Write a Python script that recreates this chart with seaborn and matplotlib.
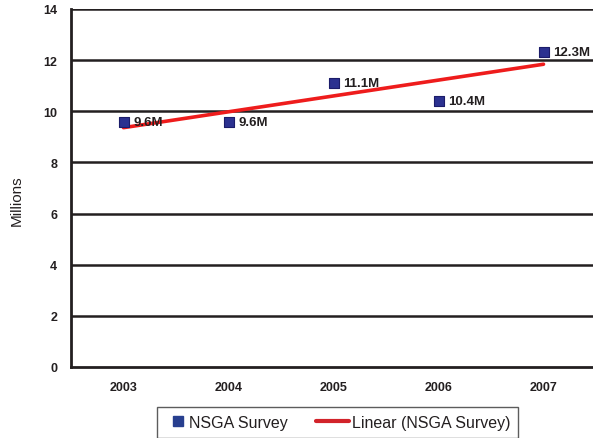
import matplotlib
matplotlib.use("Agg")
import matplotlib.pyplot as plt
from matplotlib.lines import Line2D
from matplotlib.legend_handler import HandlerLine2D
import numpy as np
import seaborn as sns
import pandas as pd

# Survey participation, millions
years = ["2003", "2004", "2005", "2006", "2007"]
participants = [9.6, 9.6, 11.1, 10.4, 12.3]
point_labels = ["9.6M", "9.6M", "11.1M", "10.4M", "12.3M"]
y_ticks = [0, 2, 4, 6, 8, 10, 12, 14]

df = pd.DataFrame({"idx": range(len(years)), "year": years, "value": participants})

sns.set_theme(style="white")
plt.rcParams["font.family"] = ["Liberation Sans", "DejaVu Sans"]

ink = "#231f20"
marker_fill = "#2b3190"
marker_edge = "#1b1c6a"
trend_red = "#ee1c1c"


class ShiftedMarker(HandlerLine2D):
    """Legend marker nudged sideways within its handle box."""

    def __init__(self, shift, **kw):
        super().__init__(**kw)
        self.shift = shift

    def create_artists(self, legend, orig_handle, xdescent, ydescent, width,
                       height, fontsize, trans):
        arts = super().create_artists(legend, orig_handle, xdescent, ydescent,
                                      width, height, fontsize, trans)
        for a in arts:
            xd = np.asarray(a.get_xdata(), float) + self.shift
            a.set_data(xd, np.asarray(a.get_ydata(), float))
        return arts


class LongLine(HandlerLine2D):
    """Legend line that reaches further left than its handle box."""

    def __init__(self, extend, **kw):
        super().__init__(**kw)
        self.extend = extend

    def create_artists(self, legend, orig_handle, xdescent, ydescent, width,
                       height, fontsize, trans):
        arts = super().create_artists(legend, orig_handle, xdescent, ydescent,
                                      width, height, fontsize, trans)
        line = arts[0]
        xd = np.asarray(line.get_xdata(), float)
        yc = float(np.asarray(line.get_ydata(), float).mean())
        line.set_data([xd.min() - self.extend, xd.max()], [yc, yc])
        return arts


fig = plt.figure(figsize=(5.93, 4.39), dpi=100)
ax = fig.add_axes([71 / 593, 71 / 439, 525 / 593, 358 / 439])

# horizontal gridlines
for v in y_ticks[1:]:
    ax.axhline(v, color=ink, lw=1.8, zorder=1)

# least-squares trend across the survey years
sns.regplot(data=df, x="idx", y="value", scatter=False, ci=None, ax=ax,
            line_kws={"color": trend_red, "lw": 2.6, "zorder": 3})

sns.scatterplot(data=df, x="idx", y="value", ax=ax, marker="s", s=50,
                color=marker_fill, edgecolor=marker_edge, linewidth=0.8, zorder=4)

for i, (v, lab) in enumerate(zip(participants, point_labels)):
    ax.annotate(lab, (i, v), xytext=(7, 0), textcoords="offset points",
                ha="left", va="center", fontsize=9.5, fontweight="bold",
                color=ink, zorder=5)

ax.set_xlim(-0.5, len(years) - 0.5)
ax.set_ylim(0, 14)
ax.set_yticks(y_ticks)
ax.set_yticklabels([str(t) for t in y_ticks], fontsize=9, fontweight="bold", color=ink)
ax.set_xticks(range(len(years)))
ax.set_xticklabels(years, fontsize=9, fontweight="bold", color=ink)
ax.tick_params(axis="x", length=0, pad=10)
ax.tick_params(axis="y", length=6, width=1.8, color=ink, direction="out", pad=4)
ax.set_xticks([i + 0.5 for i in range(len(years) - 1)], minor=True)
ax.tick_params(axis="x", which="minor", length=6, width=1.5, color=ink, direction="out")

ax.set_xlabel("")
ax.set_ylabel("Millions", fontsize=11, color=ink)
ax.yaxis.set_label_coords(-0.0895, 0.466)

for side in ["top", "right"]:
    ax.spines[side].set_visible(False)
for side in ["left", "bottom"]:
    ax.spines[side].set_color(ink)
    ax.spines[side].set_linewidth(2)

marker_handle = Line2D([], [], marker="s", ls="none", markersize=7.3,
                       markerfacecolor="#283f8f", markeredgecolor="#283f8f")
line_handle = Line2D([], [], color="#d2232a", lw=3)
leg = fig.legend([marker_handle, line_handle], ["NSGA Survey", "Linear (NSGA Survey)"],
                 ncol=2, loc="upper left", bbox_to_anchor=(157 / 593, 1 - 408 / 439),
                 frameon=True, fancybox=False, fontsize=11.5, handlelength=1.31,
                 handletextpad=0.19, columnspacing=2.5, borderpad=0.5,
                 borderaxespad=0,
                 handler_map={marker_handle: ShiftedMarker(1.8, numpoints=1),
                              line_handle: LongLine(8.6)})
leg.get_frame().set_edgecolor("#333333")
leg.get_frame().set_linewidth(1.0)
for t in leg.get_texts():
    t.set_color(ink)

fig.savefig("out.png", dpi=100)
